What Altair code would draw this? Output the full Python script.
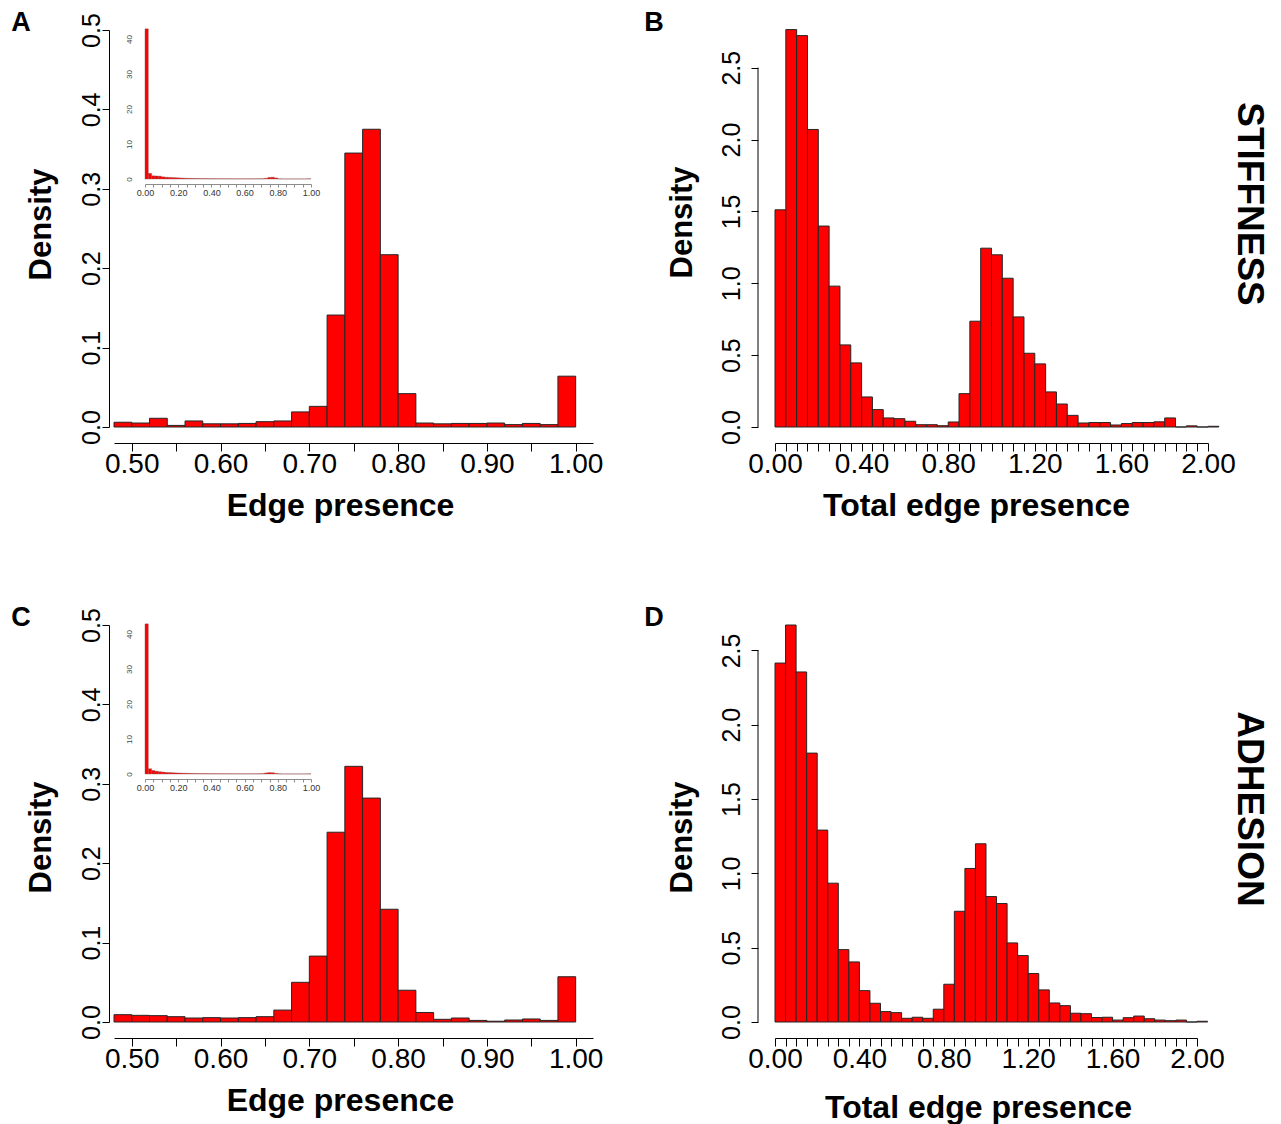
import altair as alt
import pandas as pd

FONT = "Liberation Sans"
RED = "#FF0000"

# ---------------- data ----------------
# Panels A / C : edge presence, bins of width 0.02 starting at these edges
ac_bin_start = [0.48, 0.50, 0.52, 0.54, 0.56, 0.58, 0.60, 0.62, 0.64, 0.66,
                0.68, 0.70, 0.72, 0.74, 0.76, 0.78, 0.80, 0.82, 0.84, 0.86,
                0.88, 0.90, 0.92, 0.94, 0.96, 0.98]
a_density = [0.006, 0.005, 0.011, 0.002, 0.0076, 0.004, 0.004, 0.0045, 0.0067, 0.0076,
             0.019, 0.026, 0.141, 0.345, 0.375, 0.217, 0.042, 0.005, 0.004, 0.0045,
             0.0045, 0.005, 0.003, 0.0045, 0.003, 0.064]
c_density = [0.0092, 0.0084, 0.008, 0.0067, 0.005, 0.0055, 0.005, 0.0055, 0.0067, 0.015,
             0.050, 0.083, 0.239, 0.322, 0.282, 0.142, 0.040, 0.012, 0.0034, 0.005,
             0.002, 0.001, 0.0025, 0.0038, 0.002, 0.057]

# Panels B / D : total edge presence, bins of width 0.05
bd_bin_start = [0.00, 0.05, 0.10, 0.15, 0.20, 0.25, 0.30, 0.35, 0.40, 0.45,
                0.50, 0.55, 0.60, 0.65, 0.70, 0.75, 0.80, 0.85, 0.90, 0.95,
                1.00, 1.05, 1.10, 1.15, 1.20, 1.25, 1.30, 1.35, 1.40, 1.45,
                1.50, 1.55, 1.60, 1.65, 1.70, 1.75, 1.80, 1.85, 1.90, 1.95,
                2.00]
b_density = [1.511, 2.765, 2.723, 2.070, 1.398, 0.980, 0.571, 0.446, 0.209, 0.121,
             0.063, 0.058, 0.040, 0.016, 0.016, 0.009, 0.035, 0.232, 0.736, 1.244,
             1.198, 1.035, 0.766, 0.513, 0.439, 0.244, 0.160, 0.081, 0.028, 0.031,
             0.031, 0.014, 0.024, 0.031, 0.031, 0.036, 0.063, 0.0, 0.008, 0.0,
             0.005]
d_density = [2.415, 2.671, 2.355, 1.809, 1.291, 0.934, 0.487, 0.404, 0.211, 0.126,
             0.070, 0.063, 0.025, 0.032, 0.025, 0.086, 0.254, 0.745, 1.033, 1.199,
             0.844, 0.797, 0.532, 0.447, 0.326, 0.216, 0.128, 0.110, 0.059, 0.056,
             0.030, 0.032, 0.013, 0.029, 0.040, 0.022, 0.013, 0.009, 0.013, 0.0,
             0.005]

# Insets (full range 0-1, bins of width 0.02)
inset_bin_start = [0.00, 0.02, 0.04, 0.06, 0.08, 0.10, 0.12, 0.14, 0.16, 0.18,
                   0.20, 0.22, 0.24, 0.26, 0.28, 0.30, 0.32, 0.34, 0.36, 0.38,
                   0.40, 0.42, 0.44, 0.46, 0.48, 0.50, 0.52, 0.54, 0.56, 0.58,
                   0.60, 0.62, 0.64, 0.66, 0.68, 0.70, 0.72, 0.74, 0.76, 0.78,
                   0.80, 0.82, 0.84, 0.86, 0.88, 0.90, 0.92, 0.94, 0.96, 0.98]
inset_a_density = [42.9, 1.6, 0.9, 0.85, 0.8, 0.6, 0.5, 0.45, 0.4, 0.35,
                   0.3, 0.25, 0.2, 0.18, 0.15, 0.13, 0.12, 0.1, 0.1, 0.09,
                   0.08, 0.08, 0.07, 0.07, 0.06, 0.06, 0.06, 0.05, 0.05, 0.05,
                   0.05, 0.05, 0.05, 0.06, 0.07, 0.08, 0.2, 0.45, 0.5, 0.3,
                   0.05, 0.02, 0.02, 0.02, 0.02, 0.02, 0.02, 0.02, 0.02, 0.06]
inset_c_density = [42.9, 1.5, 1.0, 0.8, 0.65, 0.55, 0.45, 0.4, 0.35, 0.3,
                   0.27, 0.23, 0.2, 0.17, 0.15, 0.13, 0.12, 0.1, 0.1, 0.09,
                   0.08, 0.08, 0.07, 0.07, 0.06, 0.06, 0.06, 0.05, 0.05, 0.05,
                   0.05, 0.05, 0.05, 0.06, 0.08, 0.12, 0.3, 0.4, 0.35, 0.18,
                   0.05, 0.02, 0.02, 0.02, 0.02, 0.02, 0.02, 0.02, 0.02, 0.05]

ac_xticks = [0.50, 0.55, 0.60, 0.65, 0.70, 0.75, 0.80, 0.85, 0.90, 0.95, 1.00]
ac_yticks = [0.0, 0.1, 0.2, 0.3, 0.4, 0.5]
bd_xticks = [0.00, 0.05, 0.10, 0.15, 0.20, 0.25, 0.30, 0.35, 0.40, 0.45,
             0.50, 0.55, 0.60, 0.65, 0.70, 0.75, 0.80, 0.85, 0.90, 0.95,
             1.00, 1.05, 1.10, 1.15, 1.20, 1.25, 1.30, 1.35, 1.40, 1.45,
             1.50, 1.55, 1.60, 1.65, 1.70, 1.75, 1.80, 1.85, 1.90, 1.95, 2.00]
bd_yticks = [0.0, 0.5, 1.0, 1.5, 2.0, 2.5]
inset_xticks = [0.00, 0.05, 0.10, 0.15, 0.20, 0.25, 0.30, 0.35, 0.40, 0.45, 0.50,
                0.55, 0.60, 0.65, 0.70, 0.75, 0.80, 0.85, 0.90, 0.95, 1.00]
inset_yticks = [0, 10, 20, 30, 40]

PANEL_H = 397


def frame(starts, dens, w):
    return pd.DataFrame({
        "x0": starts,
        "x1": [round(s + w, 3) for s in starts],
        "y1": dens,
        "y0": [0.0] * len(dens),
    })


def every(mod):
    return ("round(datum.value*100) %% %d == 0 ? format(datum.value, '.2f') : ''" % mod)


def x_axis(values, mod, title, title_x, title_y):
    return alt.Axis(values=values, labelExpr=every(mod), tickSize=8, offset=16,
                    labelFontSize=28, labelPadding=21, labelBaseline="alphabetic",
                    labelOverlap=False, labelFlush=False,
                    title=title, titleFontSize=32, titleFontWeight="bold",
                    titleX=title_x, titleY=title_y, titleAlign="center",
                    titleBaseline="alphabetic", grid=False,
                    domainColor="#000000", tickColor="#000000", labelColor="#000000",
                    titleColor="#000000", orient="bottom")


def y_axis(values, offset, pad, title_x, title_y, domain=True):
    return alt.Axis(values=values, format=".1f", tickSize=7, offset=offset, domain=domain,
                    labelAngle=270, labelAlign="center", labelBaseline="alphabetic",
                    labelFontSize=25, labelPadding=pad, labelOverlap=False, labelFlush=False,
                    title="Density", titleFontSize=31, titleFontWeight="bold",
                    titleAngle=270, titleBaseline="alphabetic", titleAlign="center",
                    titleX=title_x, titleY=title_y,
                    grid=False, domainColor="#000000", tickColor="#000000",
                    labelColor="#000000", titleColor="#000000", orient="left")


def bars(df, xscale, yscale, xaxis, yaxis):
    return alt.Chart(df).mark_rect(fill=RED, stroke="#262626", strokeWidth=1).encode(
        x=alt.X("x0:Q", scale=xscale, axis=xaxis),
        x2="x1:Q",
        y=alt.Y("y1:Q", scale=yscale, axis=yaxis),
        y2="y0:Q",
    )


def label(text, x, y, size, angle=0):
    return alt.Chart(pd.DataFrame({"t": [text]})).mark_text(
        font=FONT, fontSize=size, fontWeight="bold", angle=angle,
        align="center", baseline="middle", color="#000000"
    ).encode(x=alt.value(x), y=alt.value(y), text="t:N")


def inset(dens):
    xs = alt.Scale(domain=[0, 1], range=[31, 197], nice=False, zero=False)
    ys = alt.Scale(domain=[0, 40], range=[149, 9], nice=False)
    xa = alt.Axis(values=inset_xticks, labelExpr=every(20), tickSize=3, offset=154 - PANEL_H,
                  labelFontSize=9, labelPadding=1, labelOverlap=False, labelFlush=False,
                  title="", grid=False, domainColor="#8c8c8c", tickColor="#8c8c8c",
                  labelColor="#333333", orient="bottom")
    ya = alt.Axis(values=inset_yticks, tickSize=0, ticks=False, domain=False, offset=-18,
                  labelAngle=270, labelAlign="center", labelBaseline="alphabetic",
                  labelFontSize=8, labelPadding=1, labelOverlap=False, labelFlush=False,
                  title="", grid=False, labelColor="#444444", orient="left")
    return alt.Chart(frame(inset_bin_start, dens, 0.02)).mark_rect(
        fill=RED, stroke="#8c5050", strokeWidth=0.4).encode(
        x=alt.X("x0:Q", scale=xs, axis=xa),
        x2="x1:Q",
        y=alt.Y("y1:Q", scale=ys, axis=ya),
        y2="y0:Q",
    )


def panel_ac(dens, inset_dens, letter, xt_y, yt_y):
    xs = alt.Scale(domain=[0.48, 1.0195], nice=False, zero=False)
    ys = alt.Scale(domain=[0, 0.5], nice=False)
    main = bars(frame(ac_bin_start, dens, 0.02), xs, ys,
                x_axis(ac_xticks, 10, "Edge presence", 226, xt_y),
                y_axis(ac_yticks, 5, 3, -59, yt_y))
    lay = alt.layer(main, inset(inset_dens)).resolve_scale(
        x="independent", y="independent").resolve_axis(x="independent", y="independent")
    return alt.layer(lay, label(letter, -93, -7, 27)).properties(width=479, height=PANEL_H)


def panel_bd(dens, ytop, width, letter, side, side_y, xt_x, xt_y, yt_y):
    xs = alt.Scale(domain=[0, 2.0], nice=False, zero=False)
    ys = alt.Scale(domain=[0, ytop], nice=False)
    main = bars(frame(bd_bin_start, dens, 0.05), xs, ys,
                x_axis(bd_xticks, 40, "Total edge presence", xt_x, xt_y),
                y_axis(bd_yticks, 17, 12, -67, yt_y, domain=False))
    yline = alt.Chart(pd.DataFrame({"a": [0.0], "b": [2.5]})).mark_rule(
        color="#000000", strokeWidth=1).encode(
        x=alt.value(-17), y=alt.Y("a:Q"), y2="b:Q")
    return alt.layer(main, yline, label(letter, -121, -7, 27),
                     label(side, 474, side_y, 37, angle=90)).properties(
        width=width, height=PANEL_H)


A = panel_ac(a_density, inset_a_density, "A", 72, 194)
B = panel_bd(b_density, 2.762, 433, "B", "STIFFNESS", 174, 201, 72, 192)
C = panel_ac(c_density, inset_c_density, "C", 72, 212)
D = panel_bd(d_density, 2.671, 422, "D", "ADHESION", 184, 203, 79, 212)

chart = alt.concat(A, B, C, D, columns=2, spacing={"row": 198, "column": 182},
                   bounds="flush").properties(
    padding={"left": 2, "top": 0, "right": 0, "bottom": 0},
    background="#ffffff",
).configure(font=FONT).configure_view(stroke="transparent")

chart.save("out.html", embed_options={"renderer": "svg", "actions": False})
